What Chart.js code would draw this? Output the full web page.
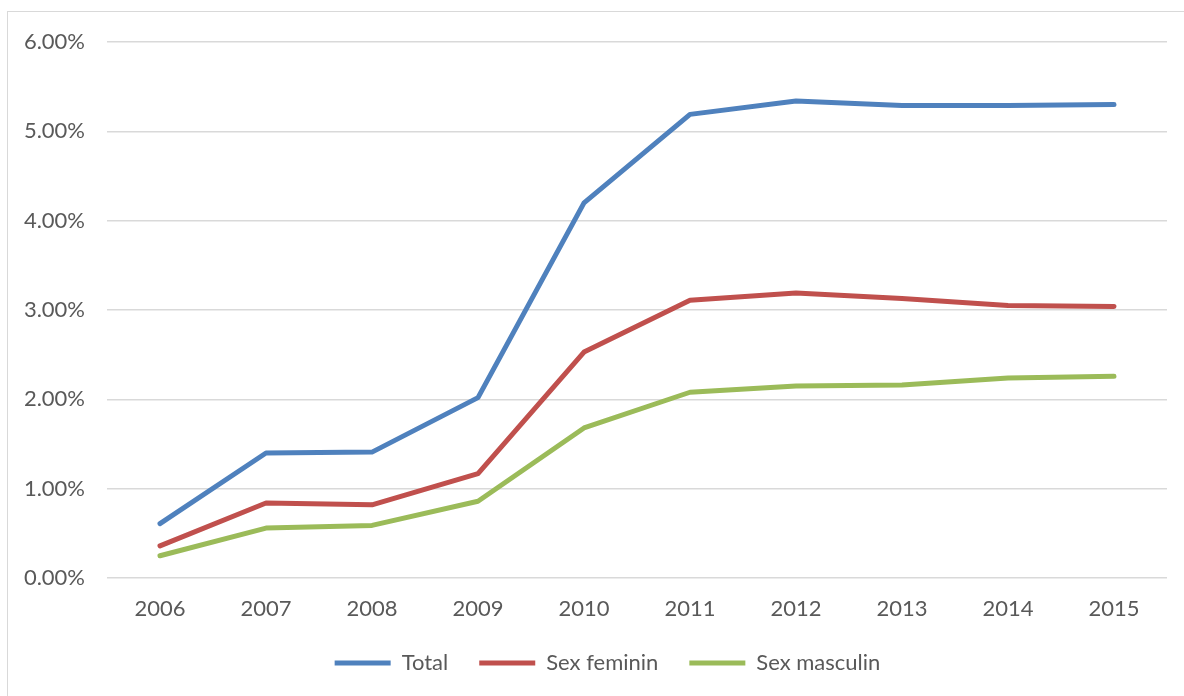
<!DOCTYPE html>
<html>
<head>
<meta charset="utf-8">
<script src="https://cdn.jsdelivr.net/npm/chart.js@4"></script>
<style>
  html, body { margin:0; padding:0; background:#fff; }
  #wrap { position:relative; width:1184px; height:696px; overflow:hidden; background:#fff; }
  #frame { position:absolute; left:7px; top:11px; width:1200px; height:720px; border:1.5px solid #d9d9d9; box-sizing:border-box; }
  canvas { position:absolute; left:0; top:0; }
</style>
</head>
<body>
<div id="wrap">
  <div id="frame"></div>
  <canvas id="c" width="1184" height="696"></canvas>
</div>
<script>
const years = ['2006','2007','2008','2009','2010','2011','2012','2013','2014','2015'];
const total = [0.61, 1.40, 1.41, 2.02, 4.20, 5.19, 5.34, 5.29, 5.29, 5.30];
const feminin = [0.36, 0.84, 0.82, 1.17, 2.53, 3.11, 3.19, 3.13, 3.05, 3.04];
const masculin = [0.25, 0.56, 0.59, 0.86, 1.68, 2.08, 2.15, 2.16, 2.24, 2.26];
const seriesNames = ['Total', 'Sex feminin', 'Sex masculin'];
const colors = ['#4F81BD', '#C0504D', '#9BBB59'];

const font = { family: 'Lato', size: 22 };
const textColor = '#595959';

function ds(label, data, color) {
  return {
    label, data,
    borderColor: color, backgroundColor: color,
    borderWidth: 5, pointRadius: 0, pointHoverRadius: 0,
    tension: 0, borderCapStyle: 'round', borderJoinStyle: 'round', fill: false
  };
}

// Adjust legend box: shrink reserved height, then place it where the reference has it
const legendPlace = {
  id: 'legendPlace',
  beforeLayout(chart) {
    const lg = chart.legend;
    if (lg && !lg._patched) {
      const f = lg.fit;
      lg.fit = function () { f.call(this); this.height = Math.max(0, this.height - 16.5); };
      lg._patched = true;
    }
  },
  afterLayout(chart) {
    const lg = chart.legend;
    if (!lg) return;
    lg.top = 621; lg.height = 72; lg.bottom = 621 + 72;
    lg.left += 24; lg.right += 24;
  }
};

new Chart(document.getElementById('c'), {
  type: 'line',
  data: {
    labels: years,
    datasets: [
      ds(seriesNames[0], total, colors[0]),
      ds(seriesNames[1], feminin, colors[1]),
      ds(seriesNames[2], masculin, colors[2])
    ]
  },
  options: {
    responsive: false,
    animation: false,
    devicePixelRatio: 1,
    layout: { padding: { left: 0, right: 17, top: 42, bottom: 9 } },
    scales: {
      x: {
        offset: true,
        grid: { display: false, drawTicks: false },
        border: { display: false },
        ticks: { color: textColor, font, padding: 18 }
      },
      y: {
        min: 0, max: 6,
        afterFit: s => { s.width = 107; },
        grid: { color: '#d9d9d9', lineWidth: 1.5, drawTicks: false },
        border: { display: false },
        ticks: { stepSize: 1, color: textColor, font, padding: 22,
          callback: v => Number(v).toFixed(2) + '%' }
      }
    },
    plugins: {
      tooltip: { enabled: false },
      legend: {
        position: 'bottom',
        labels: {
          color: textColor, font,
          boxWidth: 56, boxHeight: 0, padding: 31,
          generateLabels: chart => chart.data.datasets.map((d, i) => ({
            text: d.label, fillStyle: d.borderColor, strokeStyle: d.borderColor,
            lineWidth: 5, lineCap: 'round', fontColor: textColor, datasetIndex: i, hidden: false
          }))
        }
      }
    }
  },
  plugins: [legendPlace]
});
</script>
</body>
</html>
